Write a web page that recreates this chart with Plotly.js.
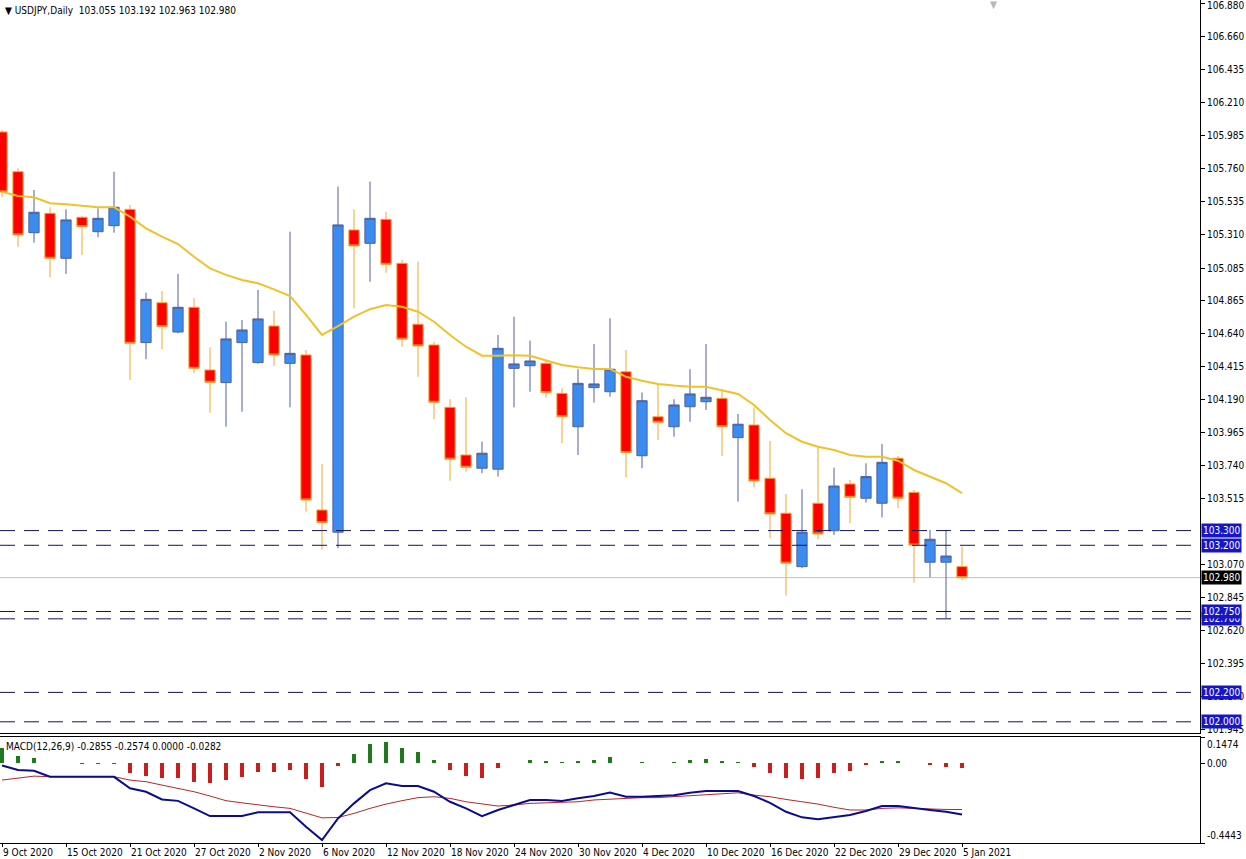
<!DOCTYPE html>
<html><head><meta charset="utf-8">
<script src="https://cdn.plot.ly/plotly-3.0.1.min.js"></script>
<style>html,body{margin:0;padding:0;background:#fff;}#chart{width:1246px;height:859px;}</style>
</head><body><div id="chart"></div>
<script>
const dates = ['2020-10-09','2020-10-12','2020-10-13','2020-10-14','2020-10-15','2020-10-16',
'2020-10-19','2020-10-20','2020-10-21','2020-10-22','2020-10-23',
'2020-10-26','2020-10-27','2020-10-28','2020-10-29','2020-10-30',
'2020-11-02','2020-11-03','2020-11-04','2020-11-05','2020-11-06',
'2020-11-09','2020-11-10','2020-11-11','2020-11-12','2020-11-13',
'2020-11-16','2020-11-17','2020-11-18','2020-11-19','2020-11-20',
'2020-11-23','2020-11-24','2020-11-25','2020-11-26','2020-11-27',
'2020-11-30','2020-12-01','2020-12-02','2020-12-03','2020-12-04',
'2020-12-07','2020-12-08','2020-12-09','2020-12-10','2020-12-11',
'2020-12-14','2020-12-15','2020-12-16','2020-12-17','2020-12-18',
'2020-12-21','2020-12-22','2020-12-23','2020-12-24',
'2020-12-28','2020-12-29','2020-12-30','2020-12-31',
'2021-01-04','2021-01-05'];

const openP = [106.010,105.740,105.325,105.457,105.151,105.430,105.332,105.373,105.484,104.578,
104.849,104.650,104.818,104.392,104.306,104.578,104.442,104.691,104.437,104.494,
103.440,103.289,105.344,105.253,105.416,105.117,104.703,104.562,104.138,103.814,
103.724,103.717,104.403,104.421,104.437,104.233,104.006,104.272,104.244,104.380,
103.809,104.074,104.006,104.142,104.176,104.199,103.932,104.018,103.656,103.418,
103.055,103.486,103.299,103.617,103.520,103.486,103.792,103.560,103.085,103.085,
103.055];
const highP = [106.023,105.763,105.616,105.498,105.484,105.440,105.491,105.740,105.514,104.917,
104.929,105.045,104.879,104.546,104.720,104.732,104.936,104.795,105.332,104.528,
103.753,105.638,105.484,105.672,105.468,105.140,105.128,104.584,104.193,104.206,
103.905,104.630,104.754,104.591,104.455,104.267,104.397,104.569,104.743,104.528,
104.238,104.297,104.193,104.397,104.569,104.261,104.093,104.138,103.909,103.549,
103.581,103.870,103.728,103.644,103.758,103.889,103.807,103.576,103.304,103.304,
103.192];
const lowP = [105.568,105.230,105.257,105.022,105.045,105.174,105.294,105.325,104.324,104.465,
104.533,104.641,104.369,104.102,104.006,104.108,104.435,104.419,104.138,103.429,
103.168,103.180,104.811,104.992,105.053,104.550,104.346,104.057,103.639,103.701,
103.690,103.667,104.138,104.244,104.206,103.894,103.814,104.170,104.210,103.662,
103.724,103.916,103.938,104.040,104.120,103.807,103.497,103.594,103.248,102.858,
103.044,103.241,103.270,103.350,103.490,103.390,103.452,102.946,102.983,102.704,
102.963];
const closeP = [105.602,105.310,105.464,105.151,105.412,105.366,105.423,105.498,104.573,104.872,
104.686,104.818,104.403,104.308,104.603,104.664,104.739,104.494,104.505,103.508,
103.354,105.378,105.235,105.423,105.110,104.601,104.555,104.172,103.785,103.730,
103.826,104.539,104.433,104.453,104.238,104.074,104.301,104.297,104.397,103.830,
104.183,104.036,104.154,104.229,104.206,104.006,104.023,103.637,103.413,103.078,
103.289,103.277,103.603,103.526,103.667,103.764,103.520,103.202,103.241,103.127,
102.980];

const maLine = [105.604,105.575,105.566,105.525,105.518,105.509,105.498,105.498,105.434,105.355,
105.298,105.248,105.162,105.083,105.038,105.004,104.981,104.940,104.895,104.766,
104.630,104.690,104.754,104.805,104.834,104.822,104.788,104.720,104.630,104.550,
104.489,104.489,104.492,104.489,104.455,104.426,104.410,104.399,104.399,104.346,
104.319,104.297,104.286,104.278,104.278,104.251,104.229,104.154,104.052,103.962,
103.904,103.870,103.848,103.814,103.802,103.802,103.775,103.712,103.666,103.622,
103.554];

const macdMain = [-0.012,-0.037,-0.041,-0.074,-0.074,-0.074,-0.074,-0.075,-0.139,-0.158,
-0.201,-0.209,-0.251,-0.294,-0.294,-0.294,-0.273,-0.273,-0.273,-0.354,
-0.428,-0.307,-0.223,-0.149,-0.111,-0.126,-0.126,-0.158,-0.214,-0.251,
-0.294,-0.260,-0.232,-0.204,-0.204,-0.210,-0.195,-0.182,-0.162,-0.186,
-0.186,-0.182,-0.177,-0.164,-0.154,-0.154,-0.154,-0.182,-0.220,-0.270,
-0.301,-0.312,-0.301,-0.288,-0.266,-0.238,-0.238,-0.251,-0.260,-0.270,
-0.2855];
const macdSignal = [-0.093,-0.080,-0.071,-0.074,-0.074,-0.074,-0.074,-0.074,-0.093,-0.102,
-0.121,-0.139,-0.158,-0.182,-0.208,-0.220,-0.232,-0.242,-0.251,-0.276,
-0.304,-0.302,-0.279,-0.251,-0.227,-0.208,-0.191,-0.186,-0.195,-0.214,
-0.227,-0.238,-0.232,-0.223,-0.220,-0.217,-0.214,-0.204,-0.199,-0.195,
-0.191,-0.191,-0.186,-0.180,-0.173,-0.171,-0.164,-0.177,-0.186,-0.201,
-0.214,-0.227,-0.245,-0.260,-0.260,-0.251,-0.248,-0.251,-0.257,-0.257,
-0.2574];
const macdHist = [0.085,0.041,0.028,0.002,0.002,-0.003,-0.002,-0.002,-0.056,-0.071,
-0.084,-0.080,-0.102,-0.112,-0.093,-0.074,-0.047,-0.047,-0.034,-0.089,
-0.130,-0.015,0.052,0.108,0.121,0.084,0.065,0.019,-0.034,-0.069,
-0.080,-0.028,0.002,0.019,0.013,0.009,0.013,0.019,0.037,0.005,
0.009,0.004,0.009,0.019,0.024,0.013,0.009,-0.022,-0.052,-0.084,
-0.089,-0.084,-0.056,-0.041,-0.009,0.013,0.013,0.002,-0.009,-0.022,
-0.0282];

const tickDates = ['2020-10-09','2020-10-15','2020-10-21','2020-10-27','2020-11-02','2020-11-06',
'2020-11-12','2020-11-18','2020-11-24','2020-11-30','2020-12-04','2020-12-10','2020-12-16',
'2020-12-22','2020-12-29','2021-01-05'];
const tickLabels = ['9 Oct 2020','15 Oct 2020','21 Oct 2020','27 Oct 2020','2 Nov 2020','6 Nov 2020',
'12 Nov 2020','18 Nov 2020','24 Nov 2020','30 Nov 2020','4 Dec 2020','10 Dec 2020','16 Dec 2020',
'22 Dec 2020','29 Dec 2020','5 Jan 2021'];
const topPriceTick = 106.880;
const priceTicks = [106.660,106.435,106.210,105.985,105.760,105.535,105.310,105.085,104.865,
104.640,104.415,104.190,103.965,103.740,103.515,103.070,102.845,102.620,102.395,102.170,101.945];
const levelLines = [102.700,102.750,103.200,103.300,102.200,102.000];
const lastPrice = 102.980;
const macdTop = 0.1474, macdBottom = -0.4443;
const headerText = '\u25BC USDJPY,Daily\u00a0\u00a0103.055 103.192 102.963 102.980';
const macdText = 'MACD(12,26,9) -0.2855 -0.2574 0.0000 -0.0282';

const FONT = 'Tahoma, "DejaVu Sans Condensed", "Liberation Sans", sans-serif';

const traces = [
  {type:'candlestick', x:dates, open:openP, high:highP, low:lowP, close:closeP,
   xaxis:'x', yaxis:'y', hoverinfo:'x+text',
   increasing:{line:{color:'#50609a', width:1}, fillcolor:'#3a8cf0'},
   decreasing:{line:{color:'#f2a830', width:1}, fillcolor:'#ff0000'},
   whiskerwidth:0, showlegend:false},
  {type:'scatter', mode:'lines', x:dates, y:maLine, xaxis:'x', yaxis:'y',
   line:{color:'#f0c228', width:2}, hoverinfo:'skip'},
  {type:'bar', x:dates, y:macdHist, xaxis:'x2', yaxis:'y2', width:0.2,
   marker:{color:macdHist.map(v => v >= 0 ? '#1f7a1f' : '#c81e1e'), line:{width:0}}},
  {type:'scatter', mode:'lines', x:dates, y:macdSignal, xaxis:'x2', yaxis:'y2',
   line:{color:'#b02a2a', width:1}},
  {type:'scatter', mode:'lines', x:dates, y:macdMain, xaxis:'x2', yaxis:'y2',
   line:{color:'#0c0c8a', width:2}}
];

const xr = [-0.125, 74.875];
const shapes = levelLines.map(v => ({type:'line', xref:'paper', x0:0, x1:1, yref:'y', y0:v, y1:v,
  line:{color:'#12125e', width:1, dash:'15px,9px'}}));
shapes.push({type:'line', xref:'paper', x0:0, x1:1, yref:'y', y0:lastPrice, y1:lastPrice,
  line:{color:'#c0c0c0', width:1}, layer:'below'});

const annotations = levelLines.map(v => ({xref:'paper', x:1, xanchor:'left', xshift:1,
  yref:'y', y:v, yanchor:'middle', text:v.toFixed(3), showarrow:false,
  bgcolor:'#1616c4', borderpad:1, font:{color:'#ffffff', size:10, family:FONT}}));
annotations.push({xref:'paper', x:1, xanchor:'left', xshift:1, yref:'y', y:lastPrice,
  yanchor:'middle', text:lastPrice.toFixed(3), showarrow:false, bgcolor:'#000000', borderpad:1,
  font:{color:'#ffffff', size:10, family:FONT}});
annotations.push({xref:'paper', x:1, xanchor:'left', xshift:5, yref:'paper', y:1, yanchor:'top',
  yshift:2, text:topPriceTick.toFixed(3), showarrow:false, font:{color:'#000', size:10, family:FONT}});
annotations.push({xref:'paper', x:0, xanchor:'left', xshift:3, yref:'paper', y:1, yanchor:'top',
  yshift:-3, text:headerText, showarrow:false, font:{color:'#000', size:10, family:FONT}});
annotations.push({xref:'paper', x:0, xanchor:'left', xshift:4, yref:'y2 domain', y:1, yanchor:'top',
  yshift:-2, text:macdText, showarrow:false, font:{color:'#000', size:10, family:FONT}});
annotations.push({xref:'paper', x:1, xanchor:'left', xshift:5, yref:'y2', y:macdTop, yanchor:'top',
  text:macdTop.toFixed(4), showarrow:false, font:{color:'#000', size:10, family:FONT}});
annotations.push({xref:'paper', x:1, xanchor:'left', xshift:5, yref:'y2', y:macdBottom, yanchor:'bottom',
  text:macdBottom.toFixed(4), showarrow:false, font:{color:'#000', size:10, family:FONT}});
annotations.push({xref:'paper', x:0.8275, xanchor:'center', yref:'paper', y:1, yanchor:'top', yshift:3,
  text:'\u25BC', showarrow:false, font:{color:'#b8b8b8', size:10}});

const layout = {
  width:1246, height:859, margin:{l:0, r:46, t:0, b:16},
  paper_bgcolor:'#ffffff', plot_bgcolor:'#ffffff', showlegend:false,
  font:{family:FONT, size:10, color:'#000'},
  boxgap:0.2, boxgroupgap:0.2, bargap:0,
  xaxis:{domain:[0,1], anchor:'y', type:'category', range:xr, showticklabels:false, ticks:'',
    showgrid:false, zeroline:false, showline:true, linecolor:'#000', linewidth:1,
    rangeslider:{visible:false}},
  yaxis:{domain:[0.1305,1], anchor:'x', side:'right', range:[101.924,106.907],
    tickvals:[topPriceTick].concat(priceTicks), ticktext:[''].concat(priceTicks.map(v => v.toFixed(3))),
    ticks:'outside', ticklen:4,
    tickcolor:'#000', showgrid:false, zeroline:false, showline:true, mirror:true, linecolor:'#000',
    ticklabeloverflow:'allow', tickfont:{size:10, family:FONT}},
  xaxis2:{domain:[0,1], anchor:'y2', type:'category', range:xr, tickvals:tickDates, ticktext:tickLabels,
    ticks:'outside', ticklen:3, tickcolor:'#000', ticklabelposition:'outside right', tickangle:0,
    ticklabeloverflow:'allow', ticklabelstandoff:0,
    showgrid:false, zeroline:false, showline:true, mirror:true, linecolor:'#000',
    tickfont:{size:10, family:FONT}},
  yaxis2:{domain:[0,0.1257], anchor:'x2', side:'right', range:[macdBottom, macdTop],
    tickvals:[macdTop, 0, macdBottom], ticktext:['', '0.00', ''], ticks:'outside', ticklen:4,
    tickcolor:'#000', showgrid:false, zeroline:false, showline:true, mirror:true, linecolor:'#000',
    ticklabeloverflow:'allow', tickfont:{size:10, family:FONT}},
  shapes:shapes, annotations:annotations
};

Plotly.newPlot('chart', traces, layout, {displayModeBar:false, staticPlot:true});
</script>
</body></html>
